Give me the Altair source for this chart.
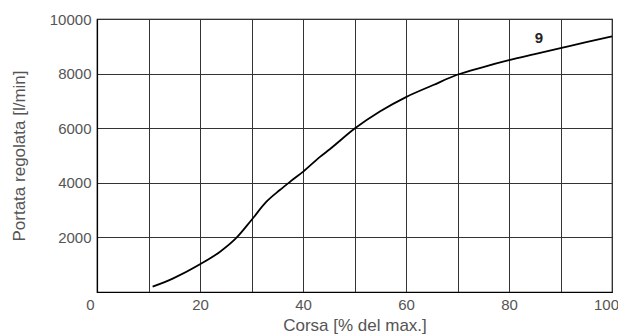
import altair as alt
import pandas as pd

corsa = [10.8, 14.8, 20, 23.9, 27.1, 30, 32.9, 35.5, 37.5, 40.1, 43.3, 45.2, 50.1, 55, 60, 65.3, 69.8, 75, 80, 85, 90, 95, 100]
portata = [194, 500, 1015, 1476, 1989, 2637, 3308, 3736, 4040, 4420, 4950, 5230, 5996, 6620, 7140, 7582, 7949, 8240, 8490, 8710, 8930, 9150, 9360]
label_x = [85.8]
label_y = [9300]
label_text = ["9"]

df = pd.DataFrame({"x": corsa, "y": portata})
lab = pd.DataFrame({"x": label_x, "y": label_y, "t": label_text})

font = "Liberation Sans"
grey = "#555555"

x = alt.X("x:Q", scale=alt.Scale(domain=[0, 100], nice=False),
          axis=alt.Axis(values=list(range(0, 101, 10)), format="d", labelFlush=False,
                        labelExpr="datum.value % 20 == 0 ? datum.label : ''",
                        labelOffset=alt.expr("datum.value == 0 ? -7 : (datum.value == 100 ? -6 : 0)"),
                        title="Corsa [% del max.]"))
y = alt.Y("y:Q", scale=alt.Scale(domain=[0, 10000], nice=False),
          axis=alt.Axis(values=list(range(0, 10001, 2000)), format="d",
                        labelExpr="datum.value == 0 ? '' : datum.label",
                        title="Portata regolata [l/min]"))

line = alt.Chart(df).mark_line(color="black", strokeWidth=1.8, interpolate="monotone").encode(x=x, y=y)
text = alt.Chart(lab).mark_text(font=font, fontSize=15, fontWeight="bold", color="#222222").encode(
    x="x:Q", y="y:Q", text="t:N")

chart = alt.layer(line, text).properties(
    width=515, height=273,
    autosize=alt.AutoSizeParams(type="none"),
    padding={"left": 89, "top": 11, "right": 6, "bottom": 44},
).configure_view(stroke="black", strokeWidth=1.2).configure_axis(
    grid=True, gridColor="#333333", gridWidth=1, gridOpacity=1,
    domain=True, domainColor="black", domainWidth=1.2,
    ticks=False,
    labelFont=font, labelFontSize=15, labelColor=grey,
    titleFont=font, titleFontSize=17, titleColor=grey, titleFontWeight="normal",
).configure_axisX(labelPadding=5, titlePadding=5).configure_axisY(labelPadding=6, titlePadding=21)

chart.save("out.html", embed_options={"renderer": "svg", "actions": False})
